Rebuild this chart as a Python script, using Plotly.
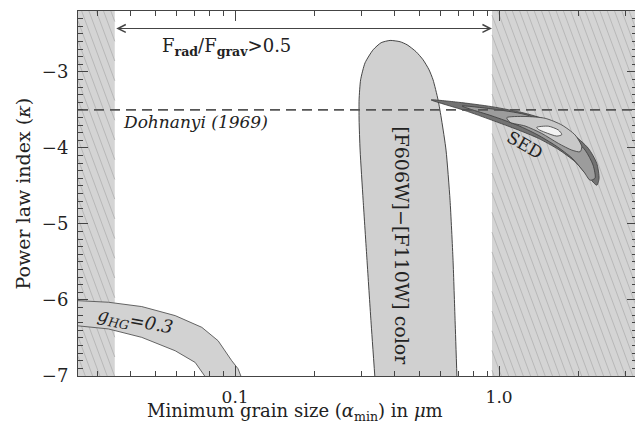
import math
import plotly.graph_objects as go

# ---------------- data ----------------
x_range = [0.0254, 3.33]          # grain size axis extent (micron)
y_range = [-7.0, -2.2]            # power-law index axis extent

x_tick_vals = [0.1, 1.0]
x_tick_text = ["0.1", "1.0"]
x_minor_vals = [0.03, 0.04, 0.05, 0.06, 0.07, 0.08, 0.09,
                0.2, 0.3, 0.4, 0.5, 0.6, 0.7, 0.8, 0.9, 2.0, 3.0]

# excluded (hatched) grain-size ranges: F_rad/F_grav > 0.5 between them
hatch_left = [0.0254, 0.035]
hatch_right = [0.94, 3.33]
frad_arrow_y = -2.43

dohnanyi_kappa = -3.5

# [F606W]-[F110W] colour constraint region
color_x = [0.339, 0.327, 0.316, 0.3055, 0.2975, 0.2949, 0.2949, 0.2988, 0.3107,
           0.3333, 0.3573, 0.3865, 0.4217, 0.4482, 0.4849, 0.5154, 0.5430, 0.5623,
           0.5873, 0.6056, 0.6295, 0.6520, 0.6693, 0.6813, 0.6930]
color_y = [-7.05, -6.272, -5.480, -4.689, -4.029, -3.633, -3.369, -3.106, -2.881,
           -2.710, -2.617, -2.587, -2.604, -2.644, -2.736, -2.842, -2.974, -3.106,
           -3.369, -3.633, -4.029, -4.689, -5.480, -6.272, -7.05]

# g_HG = 0.3 band
ghg_upper_x = [0.025, 0.0331, 0.0443, 0.0593, 0.0748, 0.0862, 0.0971, 0.1026, 0.1065]
ghg_upper_y = [-6.008, -6.030, -6.087, -6.206, -6.360, -6.536, -6.799, -6.905, -7.05]
ghg_lower_x = [0.025, 0.0331, 0.0443, 0.0593, 0.0706, 0.0785]
ghg_lower_y = [-6.338, -6.381, -6.492, -6.668, -6.822, -7.05]

# SED chi^2 contours (outer -> inner)
sed1_x = [0.5525, 0.7012, 0.938, 1.254, 1.583, 1.886, 2.180, 2.345, 2.392,
          2.345, 2.180, 1.941, 1.677, 1.409, 1.183, 0.938, 0.7432, 0.6244]
sed1_y = [-3.369, -3.400, -3.458, -3.545, -3.656, -3.809, -4.007, -4.204, -4.402,
          -4.491, -4.381, -4.183, -4.020, -3.875, -3.765, -3.635, -3.510, -3.430]
sed2_x = [0.7244, 0.9408, 1.254, 1.574, 1.857, 2.117, 2.270, 2.310,
          2.212, 2.099, 1.890, 1.644, 1.393, 1.180, 0.9408, 0.7767]
sed2_y = [-3.449, -3.488, -3.561, -3.693, -3.844, -4.029, -4.227, -4.398,
          -4.425, -4.319, -4.135, -3.975, -3.825, -3.705, -3.580, -3.490]
sed3_x = [1.070, 1.254, 1.494, 1.728, 1.941, 2.057, 2.027, 1.886, 1.677, 1.451, 1.254, 1.101]
sed3_y = [-3.603, -3.587, -3.611, -3.699, -3.831, -3.985, -4.051, -4.029, -3.941, -3.810, -3.712, -3.664]
sed4_x = [1.389, 1.537, 1.677, 1.728, 1.654, 1.494, 1.409]
sed4_y = [-3.730, -3.715, -3.765, -3.825, -3.845, -3.796, -3.756]

# ---------------- figure ----------------
FONT = "DejaVu Serif"
# the page body has an 8px margin, so the figure is sized to fit inside it
W_FIG, H_FIG = 635, 417
M_L, M_R, M_T, M_B = 70, 6, 3, 49
W = W_FIG - M_L - M_R
H = H_FIG - M_T - M_B

lo, hi = math.log10(x_range[0]), math.log10(x_range[1])


def xfrac(v):
    return (math.log10(v) - lo) / (hi - lo)


fig = go.Figure()

# hatched exclusion regions (shapes, drawn below traces)
shapes = []
slope = 0.37     # horizontal px per vertical px
spacing = 7.3
for reg in (hatch_left, hatch_right):
    fa, fb = max(0.0, xfrac(reg[0])), min(1.0, xfrac(reg[1]))
    shapes.append(dict(type="rect", xref="paper", yref="paper", x0=fa, x1=fb, y0=0, y1=1,
                       fillcolor="#d4d4d4", line=dict(width=0), layer="below"))
    xa, xb = fa * W, fb * W
    c = -slope * H - spacing
    while c < W + spacing:
        t0 = max(0.0, (xa - c) / slope)
        t1 = min(float(H), (xb - c) / slope)
        if t1 > t0:
            shapes.append(dict(type="line", xref="paper", yref="paper",
                               x0=(c + slope * t0) / W, y0=1 - t0 / H,
                               x1=(c + slope * t1) / W, y1=1 - t1 / H,
                               line=dict(color="#b8b8b8", width=1), layer="below"))
        c += spacing

# g_HG band
fig.add_trace(go.Scatter(x=ghg_upper_x + ghg_lower_x[::-1], y=ghg_upper_y + ghg_lower_y[::-1],
                         fill="toself", fillcolor="#d2d2d2", mode="lines",
                         line=dict(color="#555555", width=0.9), hoverinfo="skip"))
# colour constraint
fig.add_trace(go.Scatter(x=color_x, y=color_y, fill="toself", fillcolor="#d0d0d0", mode="lines",
                         line=dict(color="#333333", width=0.9, shape="spline", smoothing=0.6),
                         hoverinfo="skip"))
# SED contours
for xs, ys, col in ((sed1_x, sed1_y, "#727272"), (sed2_x, sed2_y, "#9c9c9c"),
                    (sed3_x, sed3_y, "#c8c8c8"), (sed4_x, sed4_y, "#f2f2f2")):
    fig.add_trace(go.Scatter(x=xs + xs[:1], y=ys + ys[:1], fill="toself", fillcolor=col,
                             mode="lines",
                             line=dict(color="#3a3a3a", width=0.8, shape="spline", smoothing=0.7),
                             hoverinfo="skip"))
# Dohnanyi line
fig.add_trace(go.Scatter(x=x_range, y=[dohnanyi_kappa, dohnanyi_kappa], mode="lines",
                         line=dict(color="#555555", width=1.6, dash="10px,6px"), hoverinfo="skip"))

ann = []
# double arrow
ann.append(dict(x=math.log10(hatch_right[0]), y=frad_arrow_y,
                ax=math.log10(hatch_left[1]), ay=frad_arrow_y,
                xref="x", yref="y", axref="x", ayref="y", text="", showarrow=True,
                arrowhead=5, startarrowhead=5, arrowside="end+start",
                arrowwidth=1.1, arrowsize=1.4, startarrowsize=1.4, arrowcolor="#444444",
                standoff=0, startstandoff=0))
ann.append(dict(x=math.log10(0.0925), y=-2.67, xref="x", yref="y", showarrow=False,
                text="F<sub><b>rad</b></sub>/F<sub><b>grav</b></sub>&gt;0.5",
                font=dict(family=FONT, size=18, color="#222222")))
ann.append(dict(x=math.log10(0.0706), y=-3.66, xref="x", yref="y", showarrow=False,
                text="<i>Dohnanyi (1969)</i>", font=dict(family=FONT, size=17, color="#222222")))
ann.append(dict(x=math.log10(1.254), y=-3.963, xref="x", yref="y", showarrow=False,
                text="SED", textangle=30, font=dict(family=FONT, size=17, color="#222222")))
ann.append(dict(x=math.log10(0.429), y=-5.28, xref="x", yref="y", showarrow=False,
                text="[F606W]\u2212[F110W] color", textangle=90,
                font=dict(family=FONT, size=19, color="#222222")))
ann.append(dict(x=math.log10(0.0418), y=-6.294, xref="x", yref="y", showarrow=False,
                text="<i>g<sub>HG</sub>=0.3</i>", textangle=10,
                font=dict(family=FONT, size=18, color="#222222")))
# axis titles (positions given in page pixels of the reference, minus the 8px page margin)
ann.append(dict(x=(287 - M_L) / W, y=-(H_FIG - M_T - H) / H, xref="paper", yref="paper",
                showarrow=False, yanchor="bottom", borderpad=0,
                text="Minimum grain size (<i>α</i><sub>min</sub>) in <i>μ</i>m",
                font=dict(family=FONT, size=18, color="#222222")))
ann.append(dict(x=(14 - M_L) / W, y=0.5, xref="paper", yref="paper", showarrow=False,
                textangle=-90, xanchor="center",
                text="Power law index (<i>κ</i>)",
                font=dict(family=FONT, size=19, color="#222222")))

fig.update_layout(
    width=W_FIG, height=H_FIG,
    margin=dict(l=M_L, r=M_R, t=M_T, b=M_B),
    paper_bgcolor="white", plot_bgcolor="white",
    showlegend=False, shapes=shapes, annotations=ann,
    font=dict(family=FONT, size=18, color="#222222"),
)
fig.update_xaxes(type="log", range=[lo, hi], tickvals=x_tick_vals, ticktext=x_tick_text,
                 ticks="inside", ticklen=10, tickcolor="#444444", mirror="ticks",
                 showline=True, linecolor="#444444", linewidth=1, showgrid=False, zeroline=False,
                 ticklabelstandoff=6, automargin=False, tickfont=dict(size=17),
                 minor=dict(tickvals=x_minor_vals, ticks="inside", ticklen=5, tickcolor="#444444",
                            showgrid=False))
fig.update_yaxes(range=y_range, dtick=1, tick0=0, ticks="inside", ticklen=10, tickcolor="#444444",
                 mirror="ticks", showline=True, linecolor="#444444", linewidth=1,
                 showgrid=False, zeroline=False, ticklabelstandoff=5, automargin=False,
                 minor=dict(dtick=0.1, ticks="inside", ticklen=5, tickcolor="#444444", showgrid=False))

fig.write_html("out.html")
